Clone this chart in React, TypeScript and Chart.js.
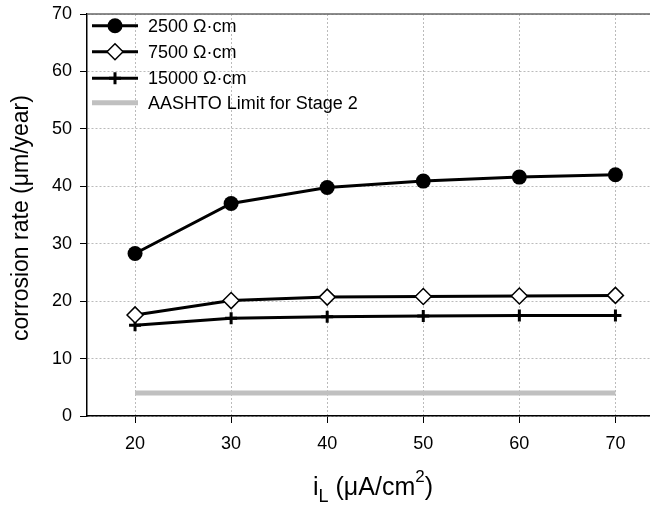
import React, { useEffect, useRef } from "react";
import { Chart, registerables } from "chart.js";

Chart.register(...registerables);

const currents = [20, 30, 40, 50, 60, 70];
const rate2500 = [28.3, 37.0, 39.8, 40.9, 41.6, 42.0];
const rate7500 = [17.6, 20.1, 20.7, 20.8, 20.9, 21.0];
const rate15000 = [15.8, 17.0, 17.3, 17.4, 17.5, 17.5];
const aashto = [4, 4, 4, 4, 4, 4];
const seriesLabels = ["2500 Ω·cm", "7500 Ω·cm", "15000 Ω·cm", "AASHTO Limit for Stage 2"];
const xTicks = [20, 30, 40, 50, 60, 70];
const yTicks = [0, 10, 20, 30, 40, 50, 60, 70];

const FONT = "'Liberation Sans', Arial, sans-serif";

function drawMarker(ctx: CanvasRenderingContext2D, style: string, x: number, y: number) {
  ctx.save();
  if (style === "circle") {
    ctx.fillStyle = "#000";
    ctx.beginPath();
    ctx.arc(x, y, 7.5, 0, Math.PI * 2);
    ctx.fill();
  } else if (style === "diamond") {
    ctx.fillStyle = "#fff";
    ctx.strokeStyle = "#000";
    ctx.lineWidth = 1.5;
    ctx.beginPath();
    ctx.moveTo(x, y - 8);
    ctx.lineTo(x + 8, y);
    ctx.lineTo(x, y + 8);
    ctx.lineTo(x - 8, y);
    ctx.closePath();
    ctx.fill();
    ctx.stroke();
  } else if (style === "cross") {
    ctx.strokeStyle = "#000";
    ctx.lineWidth = 3;
    ctx.beginPath();
    ctx.moveTo(x - 6, y);
    ctx.lineTo(x + 6, y);
    ctx.moveTo(x, y - 6);
    ctx.lineTo(x, y + 6);
    ctx.stroke();
  }
  ctx.restore();
}

const decorPlugin = {
  id: "decor",
  afterDraw(chart: any) {
    const ctx: CanvasRenderingContext2D = chart.ctx;
    const area = chart.chartArea;
    ctx.save();
    // top border
    ctx.strokeStyle = "#666";
    ctx.lineWidth = 1.5;
    ctx.beginPath();
    ctx.moveTo(area.left, area.top);
    ctx.lineTo(area.right, area.top);
    ctx.stroke();

    // legend
    const rows = [25.7, 51.7, 78.3, 102.7];
    const styles = ["circle", "diamond", "cross", "none"];
    const x0 = 92;
    const x1 = 138;
    rows.forEach((ry, i) => {
      ctx.beginPath();
      ctx.strokeStyle = i === 3 ? "#c0c0c0" : "#000";
      ctx.lineWidth = i === 3 ? 5 : 3;
      ctx.moveTo(x0, ry);
      ctx.lineTo(x1, ry);
      ctx.stroke();
      drawMarker(ctx, styles[i], (x0 + x1) / 2, ry);
      ctx.fillStyle = "#000";
      ctx.font = `18px ${FONT}`;
      ctx.textBaseline = "middle";
      ctx.textAlign = "left";
      ctx.fillText(seriesLabels[i], 148, ry + 1);
    });

    // y title
    ctx.save();
    ctx.translate(28, 218);
    ctx.rotate(-Math.PI / 2);
    ctx.font = `23px ${FONT}`;
    ctx.textAlign = "center";
    ctx.textBaseline = "alphabetic";
    ctx.fillStyle = "#000";
    ctx.fillText("corrosion rate (μm/year)", 0, 0);
    ctx.restore();

    // x title with sub/superscript
    const parts = [
      { t: "i", size: 25, dy: 0 },
      { t: "L", size: 18, dy: 7 },
      { t: " (μA/cm", size: 25, dy: 0 },
      { t: "2", size: 17, dy: -13 },
      { t: ")", size: 25, dy: 0 },
    ];
    let total = 0;
    parts.forEach((p) => {
      ctx.font = `${p.size}px ${FONT}`;
      total += ctx.measureText(p.t).width;
    });
    let cx = 373 - total / 2;
    const base = 495;
    ctx.fillStyle = "#000";
    ctx.textAlign = "left";
    ctx.textBaseline = "alphabetic";
    parts.forEach((p) => {
      ctx.font = `${p.size}px ${FONT}`;
      ctx.fillText(p.t, cx, base + p.dy);
      cx += ctx.measureText(p.t).width;
    });
    ctx.restore();
  },
};

export default function App() {
  const ref = useRef<HTMLCanvasElement>(null);
  useEffect(() => {
    if (!ref.current) return;
    const mk = (vals: number[]) => currents.map((c, i) => ({ x: c, y: vals[i] }));
    const chart = new Chart(ref.current, {
      type: "line",
      data: {
        datasets: [
          {
            label: seriesLabels[3],
            data: mk(aashto),
            borderColor: "#c0c0c0",
            borderWidth: 5,
            pointRadius: 0,
            order: 4,
          },
          {
            label: seriesLabels[2],
            data: mk(rate15000),
            borderColor: "#000",
            borderWidth: 3,
            pointStyle: "cross",
            pointRadius: 6,
            pointBorderWidth: 3,
            pointBorderColor: "#000",
            order: 3,
          },
          {
            label: seriesLabels[1],
            data: mk(rate7500),
            borderColor: "#000",
            borderWidth: 3,
            pointStyle: "rectRot",
            pointRadius: 8,
            pointBorderWidth: 1.5,
            pointBorderColor: "#000",
            pointBackgroundColor: "#fff",
            order: 2,
          },
          {
            label: seriesLabels[0],
            data: mk(rate2500),
            borderColor: "#000",
            borderWidth: 3,
            pointStyle: "circle",
            pointRadius: 7.5,
            pointBorderWidth: 0,
            pointBackgroundColor: "#000",
            order: 1,
          },
        ],
      },
      options: {
        animation: false,
        responsive: false,
        layout: { padding: { top: 14, right: 0, left: 0, bottom: 0 } },
        plugins: { legend: { display: false }, tooltip: { enabled: false } },
        scales: {
          x: {
            type: "linear",
            min: 15,
            max: 73.65,
            afterBuildTicks: (s: any) => {
              s.ticks = xTicks.map((v) => ({ value: v }));
            },
            afterFit: (s: any) => {
              s.height = 92;
              s.paddingLeft = 0;
              s.paddingRight = 0;
            },
            ticks: {
              color: "#000",
              font: { family: FONT, size: 18 },
              padding: 10,
              maxRotation: 0,
              autoSkip: false,
            },
            grid: {
              color: "#bbb",
              tickColor: "#000",
              tickLength: 7,
              tickBorderDash: [],
              lineWidth: 1,
            },
            border: { display: true, color: "#000", width: 1.5, dash: [2, 2] },
          },
          y: {
            min: 0,
            max: 70,
            afterBuildTicks: (s: any) => {
              s.ticks = yTicks.map((v) => ({ value: v }));
            },
            afterFit: (s: any) => {
              s.width = 87;
              s.paddingTop = 0;
              s.paddingBottom = 0;
            },
            ticks: {
              color: "#000",
              font: { family: FONT, size: 18 },
              padding: 8,
            },
            grid: {
              color: "#bbb",
              tickColor: "#000",
              tickLength: 7,
              tickBorderDash: [],
              lineWidth: 1,
            },
            border: { display: true, color: "#000", width: 1.5, dash: [2, 2] },
          },
        },
      },
      plugins: [decorPlugin],
    });
    return () => chart.destroy();
  }, []);
  return (
    <div style={{ position: "fixed", left: 0, top: 0, width: 650, height: 508, overflow: "hidden", background: "#fff" }}>
      <canvas ref={ref} width={660} height={508} style={{ width: 660, height: 508, display: "block" }} />
    </div>
  );
}
